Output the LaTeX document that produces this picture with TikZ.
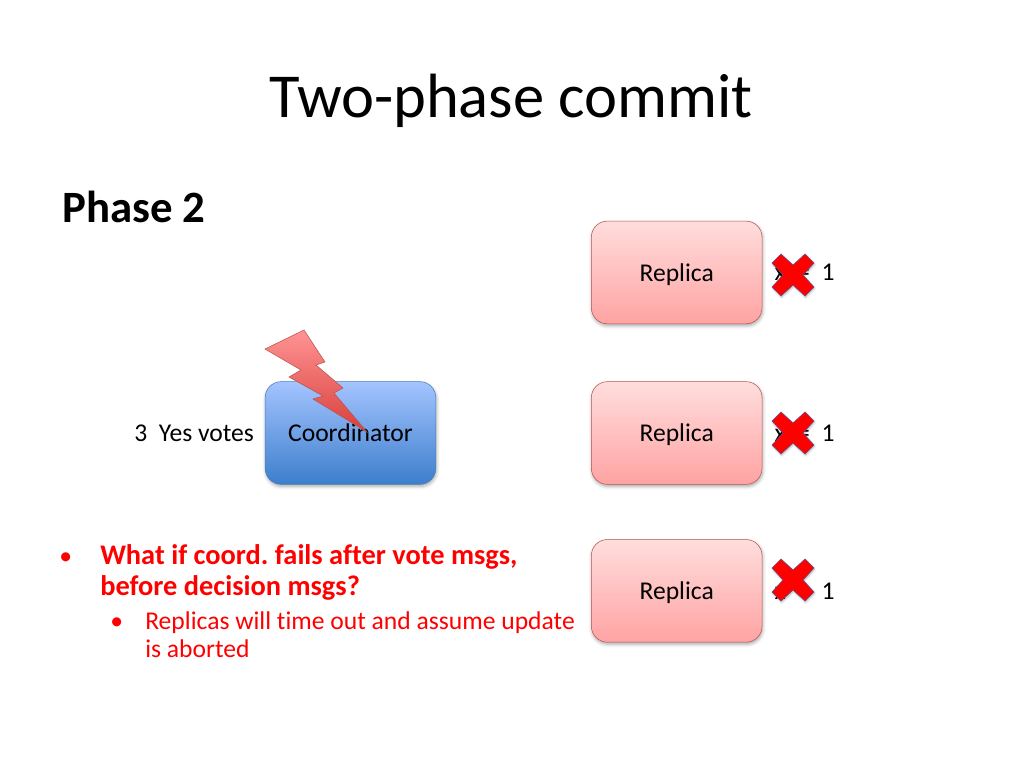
\documentclass[tikz,border=0pt]{standalone}
\usepackage{fontspec}
\setmainfont{Carlito}[Ligatures={NoCommon}]
\usetikzlibrary{positioning,shadows,shadows.blur}
\definecolor{replicatop}{HTML}{FFDDDD}
\definecolor{replicabot}{HTML}{FFA3A3}
\definecolor{replicaline}{HTML}{B85450}
\definecolor{coordtop}{HTML}{A3C4FF}
\definecolor{coordbot}{HTML}{3D7ECC}
\definecolor{coordline}{HTML}{4A7EBB}
\definecolor{crossline}{HTML}{5F4B8B}
\definecolor{bolttop}{HTML}{FF9494}
\definecolor{boltbot}{HTML}{D8403C}
\frenchspacing
\tikzset{
  xmark/.pic={
    \draw[fill=red,draw=crossline,thin,blur shadow={shadow xshift=0.5pt,shadow yshift=-1pt,shadow blur radius=1.5pt,shadow opacity=30}] (-21,-12) -- (-12,-21) -- (0,-10) -- (12,-21) -- (21,-12) -- (10,0) -- (21,12) -- (12,21) -- (0,10) -- (-12,21) -- (-21,12) -- (-10,0) -- cycle;
  }
}
\begin{document}
\begin{tikzpicture}[x=0.75pt, y=-0.75pt, node distance=43pt]
	\tikzstyle{box}=[draw,thin,rounded corners=12pt,minimum width=128pt,minimum height=77pt,text=black,text height=14pt,text depth=1pt,font=\fontsize{19.2}{23}\selectfont,blur shadow={shadow xshift=0.5pt,shadow yshift=-1.5pt,shadow blur radius=2.5pt,shadow opacity=35}]
	\tikzstyle{replica}=[box,draw=replicaline,top color=replicatop,bottom color=replicabot]
	\tikzstyle{coord}=[box,draw=coordline,top color=coordtop,bottom color=coordbot]
	\tikzstyle{plain}=[inner sep=0pt,font=\fontsize{19.2}{23}\selectfont]
	\useasboundingbox (0,0) rectangle (1024,768);
	\node[font=\fontsize{46.9}{56}\selectfont,inner sep=0pt] (title) at (511,101) {Two-phase commit};
	\node[anchor=base west,inner sep=0pt,font=\fontsize{33.6}{40}\selectfont\bfseries] (phase) at (62,222) {Phase 2};
	\node[coord]    (C) at (350.5,433)        {Coordinator};
	\node[replica]  (R2)[right = 116.25pt of C]  {Replica};
	\node[replica]  (R1)[above = 43pt of R2]  {Replica};
	\node[replica]  (R3)[below = 41pt of R2]  {Replica};
	\node[plain]    (votes)[left = 8pt of C]  {3\ \ Yes votes};
	\node[plain]    (V1)[right = 9pt of R1] {x\ \ =\ \ 1};
	\node[plain]    (V2)[right = 9pt of R2] {x\ \ =\ \ 1};
	\node[plain]    (V3)[right = 9pt of R3] {x\ \ =\ \ 1};
	\pic at (793,275) {xmark};
	\pic at (793,433) {xmark};
	\pic at (793,580) {xmark};
	\draw[draw=replicaline,thin,top color=bolttop,bottom color=boltbot]
		(265,349) -- (304,330) -- (325,362) -- (316,365) -- (343,388) -- (334,393) -- (367,432)
		-- (313,399) -- (323,396) -- (289,377) -- (301,370) -- cycle;
	\node[anchor=base west,inner sep=0pt,text=red,font=\fontsize{19.2}{23}\selectfont] (b1) at (59,564) {•};
	\node[anchor=north west,inner sep=0pt,text=red,align=left,font=\fontsize{21.3}{23.2}\selectfont\bfseries] (q) at (100,544) {What if coord. fails after vote msgs,\\before decision msgs?};
	\node[anchor=base west,inner sep=0pt,text=red,font=\fontsize{19.2}{23}\selectfont] (b2) at (110,629) {•};
	\node[anchor=north west,inner sep=0pt,text=red,align=left,font=\fontsize{19.2}{21}\selectfont] (a) at (145,611) {Replicas will time out and assume update\\is aborted};
\end{tikzpicture}
\end{document}
